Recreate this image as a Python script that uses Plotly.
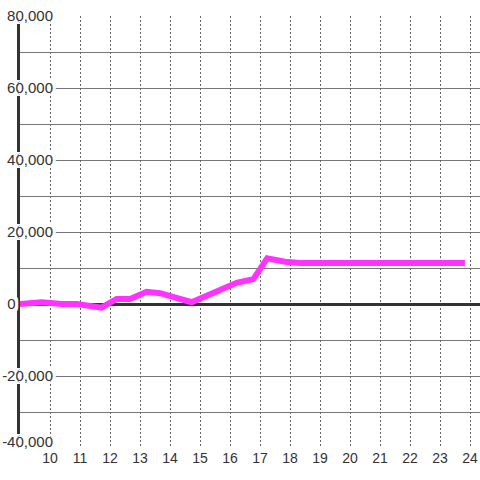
import plotly.graph_objects as go

x_hours = [9.0, 9.72, 10.4, 10.9, 11.72, 12.22, 12.67, 13.22, 13.67, 14.72,
           16.22, 16.78, 17.24, 17.83, 18.33, 19.5, 21.0, 22.5, 23.83]
y_values = [0, 500, 0, 0, -1000, 1400, 1400, 3400, 3000, 500,
            5900, 6900, 12700, 11750, 11400, 11400, 11400, 11400, 11400]

x_ticks = list(range(10, 25))
y_ticks = [-40000, -20000, 0, 20000, 40000, 60000, 80000]
y_tick_labels = ["-40,000", "-20,000", "0", "20,000", "40,000", "60,000", "80,000"]

# the bottom label sits a little above its gridline, "0" sits at the left
label_pos = [v + 1700 if v == min(y_ticks) else v for v in y_ticks]
label_text = [t + "\u00a0" * 9 if t == "0" else t for t in y_tick_labels]

fig = go.Figure()
fig.add_trace(go.Scatter(
    x=x_hours, y=y_values, mode="lines",
    line=dict(color="#ff33ff", width=6),
    hoverinfo="skip", showlegend=False,
))

fig.update_layout(
    width=480, height=480,
    margin=dict(l=20, r=0, t=16, b=32),
    paper_bgcolor="white", plot_bgcolor="white",
    font=dict(family="Liberation Sans, Arial, sans-serif", size=14, color="#333333"),
)
fig.update_xaxes(
    range=[9, 24.3333], tickmode="array", tickvals=x_ticks,
    ticktext=[str(v) for v in x_ticks],
    showgrid=True, gridcolor="#666666", gridwidth=1, griddash="2px,2px",
    showline=False, zeroline=False, ticks="", tickfont=dict(size=14),
    automargin=False, fixedrange=True,
)
shadow = ", ".join(f"{dx}px {dy}px 0 white" for dx in (-3, 0, 3) for dy in (-3, 0, 3))
fig.update_yaxes(
    range=[-40000, 80000], tickmode="array", tickvals=label_pos,
    ticktext=label_text,
    showgrid=False,
    minor=dict(dtick=10000, tick0=0, showgrid=True, gridcolor="#777777", gridwidth=1),
    showline=True, linecolor="#333333", linewidth=3,
    zeroline=True, zerolinecolor="#333333", zerolinewidth=3,
    ticks="", ticklabelposition="outside", ticklabelstandoff=-39,
    tickfont=dict(size=15, shadow=shadow),
    automargin=False, fixedrange=True,
)

fig.write_html(
    "out.html",
    config={"displayModeBar": False},
    post_script="document.body.style.margin='0';document.body.style.padding='0';",
)
